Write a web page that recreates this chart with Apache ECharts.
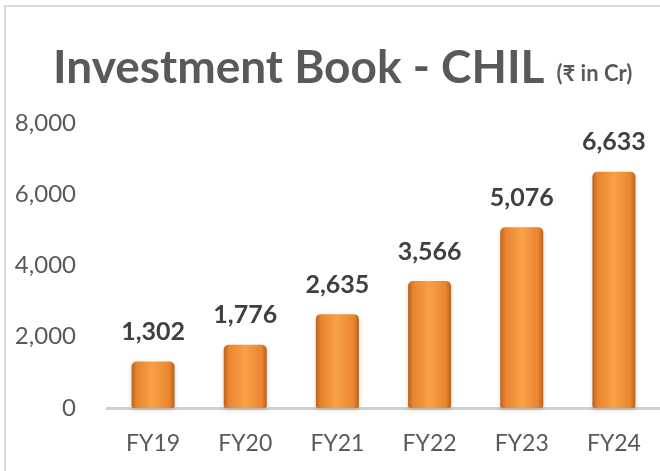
<!DOCTYPE html>
<html>
<head>
<meta charset="utf-8">
<script src="https://cdn.jsdelivr.net/npm/echarts@6/dist/echarts.min.js"></script>
<style>
  html, body { margin: 0; padding: 0; background: #fff; }
  #chart { width: 660px; height: 471px; }
</style>
</head>
<body>
<div id="chart"></div>
<script>
var years = ['FY19', 'FY20', 'FY21', 'FY22', 'FY23', 'FY24'];
var book = [1302, 1776, 2635, 3566, 5076, 6633];
var yTicks = [0, 2000, 4000, 6000, 8000];

var chart = echarts.init(document.getElementById('chart'));

var barColor = new echarts.graphic.LinearGradient(0, 0, 1, 0, [
    { offset: 0, color: '#b8621f' },
    { offset: 0.12, color: '#e9852f' },
    { offset: 0.5, color: '#f9a148' },
    { offset: 0.88, color: '#e9852f' },
    { offset: 1, color: '#b8621f' }
]);

var option = {
    animation: false,
    backgroundColor: '#fff',
    graphic: [{
        type: 'rect',
        shape: { x: 5, y: 6, width: 700, height: 500 },
        style: { fill: 'none', stroke: '#d9d9d9', lineWidth: 2 },
        z: -1
    }],
    title: {
        text: '{a|Investment Book - CHIL}{b|(₹ in Cr)}',
        left: 48,
        top: 40,
        textStyle: {
            rich: {
                a: { fontFamily: 'Lato', fontWeight: 'bold', fontSize: 46, color: '#595959' },
                b: { fontFamily: 'Lato', fontWeight: 'bold', fontSize: 22, color: '#595959', padding: [12, 0, 0, 12] }
            }
        }
    },
    grid: { left: 107, right: -12, top: 123, bottom: 63, containLabel: false },
    xAxis: {
        type: 'category',
        data: years,
        axisLine: { lineStyle: { color: '#d0d0d0', width: 3 } },
        axisTick: { show: false },
        axisLabel: { fontFamily: 'Lato', fontSize: 23, color: '#595959', margin: 24 }
    },
    yAxis: {
        type: 'value',
        min: yTicks[0],
        max: yTicks[yTicks.length - 1],
        interval: 2000,
        splitLine: { show: false },
        axisLine: { show: false },
        axisTick: { show: false },
        axisLabel: {
            fontFamily: 'Lato', fontSize: 24, color: '#595959', margin: 31,
            formatter: function (v) { return v.toLocaleString('en-US'); }
        }
    },
    series: [{
        type: 'bar',
        data: book,
        barWidth: 43,
        itemStyle: {
            color: barColor,
            borderRadius: [5, 5, 2, 2],
            shadowColor: 'rgba(120,70,20,0.25)',
            shadowBlur: 4,
            shadowOffsetY: 2
        },
        label: {
            show: true,
            position: 'top',
            distance: 17,
            fontFamily: 'Lato',
            fontWeight: 'bold',
            fontSize: 25,
            color: '#404040',
            formatter: function (p) { return p.value.toLocaleString('en-US'); }
        }
    }]
};

chart.setOption(option);
</script>
</body>
</html>
